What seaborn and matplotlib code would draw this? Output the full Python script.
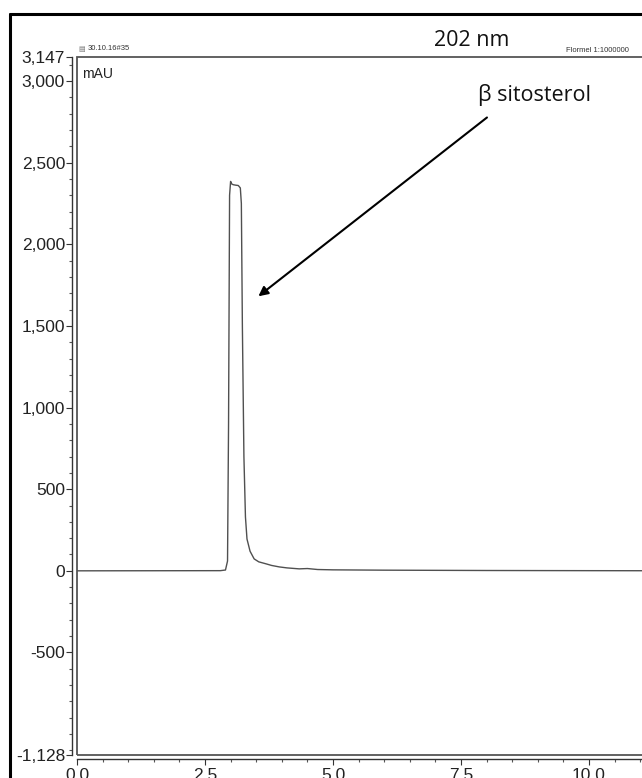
import matplotlib
matplotlib.use("Agg")
import matplotlib.pyplot as plt
import seaborn as sns
from matplotlib.lines import Line2D
from matplotlib.patches import Rectangle
from matplotlib.ticker import FixedLocator, MultipleLocator, FuncFormatter

# chromatogram trace (time in min, signal in mAU)
times = [0.0, 2.80, 2.90, 2.94, 2.96, 2.98, 3.00, 3.02, 3.05, 3.10, 3.15, 3.19,
         3.21, 3.23, 3.26, 3.29, 3.32, 3.38, 3.46, 3.55, 3.69, 3.80, 3.95,
         4.10, 4.34, 4.50, 4.70, 5.0, 6.0, 8.0, 10.0, 12.5]
signal = [0, 1, 5, 60, 900, 2300, 2385, 2370, 2365, 2362, 2360, 2345,
          2250, 1500, 700, 330, 195, 120, 73, 55, 43, 33, 24,
          18, 12, 14, 8, 6, 4, 2, 1, 0]

y_ticks = [-1128, -500, 0, 500, 1000, 1500, 2000, 2500, 3000, 3147]
x_ticks = [0.0, 2.5, 5.0, 7.5, 10.0, 12.5]

title = "202 nm"
peak_label = "β sitosterol"
run_label = "30.10.16#35"
sample_label = "Flormel 1:1000000"

W, H = 642, 778
sns.set_style("white")
plt.rcParams["font.family"] = ["Liberation Sans", "DejaVu Sans"]

fig = plt.figure(figsize=(W / 100, H / 100), dpi=100)

# plot box: left 77px, top 57px, bottom 755px, runs past the right edge
left, top, bottom, right = 77, 57, 755, 700
ax = fig.add_axes([left / W, 1 - bottom / H, (right - left) / W, (bottom - top) / H])

sns.lineplot(x=times, y=signal, ax=ax, color="#505050", linewidth=1.0)

ax.set_xlim(0, (right - left) / 51.2)
ax.set_ylim(-1128, 3147)

for s in ["top", "right"]:
    ax.spines[s].set_visible(False)
ax.spines["left"].set_position(("outward", 3.6))
ax.spines["bottom"].set_position(("outward", 3.0))
ax.spines["left"].set_color("#333333")
ax.spines["bottom"].set_color("#333333")
ax.spines["left"].set_linewidth(1.0)
ax.spines["bottom"].set_linewidth(1.0)

# the box frame of the chromatogram window
ax.add_patch(Rectangle((0, 0), 1, 1, transform=ax.transAxes, fill=False,
                       edgecolor="#555555", linewidth=1.3, clip_on=False))

ax.yaxis.set_major_locator(FixedLocator(y_ticks))
ax.yaxis.set_minor_locator(MultipleLocator(100))
ax.yaxis.set_major_formatter(FuncFormatter(lambda v, p: f"{v:,.0f}"))
ax.xaxis.set_major_locator(FixedLocator(x_ticks))
ax.xaxis.set_minor_locator(MultipleLocator(0.5))
ax.xaxis.set_major_formatter(FuncFormatter(lambda v, p: f"{v:.1f}"))

ax.tick_params(axis="both", which="major", direction="out", length=4, width=0.8,
               color="#333333", labelsize=12.5, labelcolor="#222222",
               left=True, bottom=True)
ax.tick_params(axis="both", which="minor", direction="out", length=2.5, width=0.8,
               color="#555555", left=True, bottom=True)
ax.tick_params(axis="y", which="major", pad=1)
ax.tick_params(axis="x", which="major", pad=2)
ax.set_xlabel("")
ax.set_ylabel("")

ax.text(0.008, 0.985, "mAU", transform=ax.transAxes, ha="left", va="top",
        fontsize=10, color="#222222")

# arrow pointing at the peak
ax.annotate("", xy=(3.50, 1671), xytext=(8.05, 2787),
            arrowprops=dict(arrowstyle="-|>", color="black", lw=1.5,
                            mutation_scale=14))

fig.text(472 / W, 1 - 41 / H, title, ha="center", va="center",
         fontsize=15.5, family=["Open Sans", "DejaVu Sans"], color="#111111")
fig.text(534 / W, 1 - 95 / H, peak_label, ha="center", va="center",
         fontsize=15.5, family=["Open Sans", "DejaVu Sans"], color="#111111")
fig.text(78 / W, 1 - 49 / H, "▤", ha="left", va="center", fontsize=5,
         family=["DejaVu Sans"], color="#777777")
fig.text(88 / W, 1 - 49 / H, run_label, ha="left", va="center", fontsize=5.5,
         color="#333333")
fig.text(566 / W, 1 - 50 / H, sample_label, ha="left", va="center",
         fontsize=5.5, color="#333333")

# outer black window frame (cut by the figure edge)
fig.add_artist(Line2D([9.5 / W, 9.5 / W], [0, 1 - 14 / H], color="black", lw=2.2))
fig.add_artist(Line2D([9.5 / W, 1.05], [1 - 14 / H, 1 - 14 / H], color="black", lw=2.2))

fig.savefig("out.png", dpi=100)
